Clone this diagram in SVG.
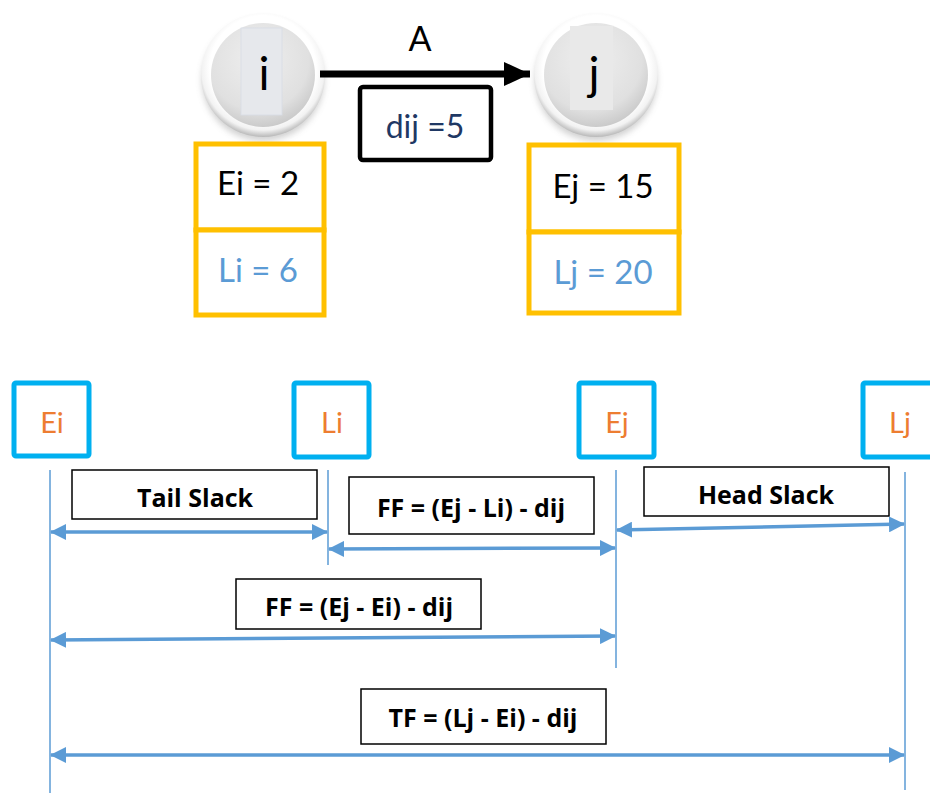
<svg xmlns="http://www.w3.org/2000/svg" width="930" height="793" viewBox="0 0 930 793">
  <style>
    .lbl { font-family: Lato, "Open Sans", "Liberation Sans", sans-serif; text-anchor: middle; dominant-baseline: central; }
    .node-txt { font-size: 46px; fill: #000; }
    .val { font-size: 33px; }
    .ybox { fill: #fff; stroke: #FFC000; stroke-width: 5; }
    .cbox { fill: #fff; stroke: #00B0F0; stroke-width: 5; }
    .tag { font-size: 29px; fill: #ED7D31; }
    .nbox { fill: #fff; stroke: #000; stroke-width: 1.5; }
    .ntxt { font-family: "Open Sans", Lato, "Liberation Sans", sans-serif; font-weight: bold; font-size: 25px; fill: #000; text-anchor: middle; dominant-baseline: central; }
    .guide { stroke: #5B9BD5; stroke-width: 1.5; fill: none; }
    .span { stroke: #5B9BD5; stroke-width: 3.5; fill: none; marker-start: url(#bstart); marker-end: url(#bend); }
  </style>
  <defs>
    <radialGradient id="ring" cx="50%" cy="45%" r="55%">
      <stop offset="0.78" stop-color="#ffffff"/>
      <stop offset="0.9" stop-color="#f2f2f2"/>
      <stop offset="1" stop-color="#b8b8b8"/>
    </radialGradient>
    <radialGradient id="ball" cx="45%" cy="35%" r="70%">
      <stop offset="0" stop-color="#efefef"/>
      <stop offset="0.7" stop-color="#e0e0e0"/>
      <stop offset="1" stop-color="#c4c4c4"/>
    </radialGradient>
    <filter id="soft" x="-20%" y="-20%" width="140%" height="150%">
      <feGaussianBlur stdDeviation="3"/>
    </filter>
    <marker id="blk" markerWidth="26" markerHeight="24" refX="26" refY="12" orient="auto" markerUnits="userSpaceOnUse">
      <path d="M0,0 L26,12 L0,24 Z" fill="#000"/>
    </marker>
    <marker id="bend" markerWidth="16" markerHeight="16" refX="15" refY="8" orient="auto" markerUnits="userSpaceOnUse">
      <path d="M0,0 L16,8 L0,16 Z" fill="#5B9BD5"/>
    </marker>
    <marker id="bstart" markerWidth="16" markerHeight="16" refX="1" refY="8" orient="auto" markerUnits="userSpaceOnUse">
      <path d="M16,0 L0,8 L16,16 Z" fill="#5B9BD5"/>
    </marker>
  </defs>

  <rect width="930" height="793" fill="#fff"/>

  <!-- event i -->
  <g id="node-i">
    <circle cx="263" cy="80" r="61" fill="#9a9a9a" opacity="0.45" filter="url(#soft)"/>
    <circle cx="263" cy="75" r="62" fill="url(#ring)"/>
    <circle cx="263" cy="75" r="52" fill="url(#ball)"/>
    <rect x="241" y="28" width="41" height="87" fill="#e6e8ec" stroke="#d8dde6" stroke-width="0.8"/>
    <text class="lbl node-txt" x="264" y="72">i</text>
  </g>

  <!-- event j -->
  <g id="node-j">
    <circle cx="596" cy="80" r="61" fill="#9a9a9a" opacity="0.45" filter="url(#soft)"/>
    <circle cx="596" cy="75" r="62" fill="url(#ring)"/>
    <circle cx="596" cy="75" r="52" fill="url(#ball)"/>
    <rect x="570" y="26" width="43" height="84" fill="#e9e9e9"/>
    <text class="lbl node-txt" x="594" y="72">j</text>
  </g>

  <!-- activity A -->
  <g id="activity-a">
    <text class="lbl" x="420" y="37" font-size="34" fill="#000">A</text>
  </g>
  <g id="duration">
    <rect x="360" y="87" width="131" height="73" rx="3" fill="#fff" stroke="#000" stroke-width="4.5"/>
    <text class="lbl" x="425" y="125" font-size="32" fill="#1F3864">dij =5</text>
  </g>

  <!-- earliest / latest times -->
  <g id="times-i">
    <rect class="ybox" x="196" y="144" width="128" height="86"/>
    <rect class="ybox" x="196" y="230" width="128" height="85"/>
    <text class="lbl val" x="258" y="182" fill="#000">Ei = 2</text>
    <text class="lbl val" x="258" y="269" fill="#5B9BD5">Li = 6</text>
  </g>
  <g id="times-j">
    <rect class="ybox" x="529" y="145" width="150" height="87"/>
    <rect class="ybox" x="529" y="232" width="150" height="81"/>
    <text class="lbl val" x="603" y="185" fill="#000">Ej = 15</text>
    <text class="lbl val" x="603" y="271" fill="#5B9BD5">Lj = 20</text>
  </g>

  <!-- time markers -->
  <g id="mark-ei">
    <rect class="cbox" x="14" y="383" width="75" height="73" rx="2"/>
    <text class="lbl tag" x="52" y="421">Ei</text>
  </g>
  <g id="mark-li">
    <rect class="cbox" x="294" y="383" width="75" height="74" rx="2"/>
    <text class="lbl tag" x="332" y="421">Li</text>
  </g>
  <g id="mark-ej">
    <rect class="cbox" x="579" y="383" width="75" height="74" rx="2"/>
    <text class="lbl tag" x="617" y="421">Ej</text>
  </g>
  <g id="mark-lj">
    <rect class="cbox" x="863" y="383" width="75" height="74" rx="2"/>
    <text class="lbl tag" x="900" y="421">Lj</text>
  </g>

  <!-- slack labels -->
  <g id="tail-slack">
    <rect class="nbox" x="72" y="470" width="245" height="49"/>
    <text class="ntxt" x="195" y="497">Tail Slack</text>
  </g>
  <g id="ff-li">
    <rect class="nbox" x="349" y="477" width="245" height="57"/>
    <text class="ntxt" x="471" y="507">FF = (Ej - Li) - dij</text>
  </g>
  <g id="head-slack">
    <rect class="nbox" x="644" y="467" width="245" height="49"/>
    <text class="ntxt" x="766" y="494">Head Slack</text>
  </g>
  <g id="ff-ei">
    <rect class="nbox" x="236" y="579" width="245" height="50"/>
    <text class="ntxt" x="359" y="606">FF = (Ej - Ei) - dij</text>
  </g>
  <g id="tf">
    <rect class="nbox" x="361" y="689" width="245" height="55"/>
    <text class="ntxt" x="483" y="717">TF = (Lj - Ei) - dij</text>
  </g>

  <!-- connectors -->
  <g id="connectors">
    <line x1="320" y1="74" x2="530" y2="74" stroke="#000" stroke-width="7" marker-end="url(#blk)"/>
    <line class="guide" x1="50" y1="470" x2="50" y2="793"/>
    <line class="guide" x1="328" y1="470" x2="328" y2="565"/>
    <line class="guide" x1="616" y1="470" x2="616" y2="668"/>
    <line class="guide" x1="905" y1="472" x2="905" y2="790"/>
    <line class="span" x1="51" y1="532" x2="327" y2="532"/>
    <line class="span" x1="329" y1="549" x2="615" y2="548"/>
    <line class="span" x1="617" y1="530" x2="904" y2="524"/>
    <line class="span" x1="51" y1="640" x2="615" y2="636"/>
    <line class="span" x1="51" y1="755" x2="904" y2="755"/>
  </g>
</svg>
